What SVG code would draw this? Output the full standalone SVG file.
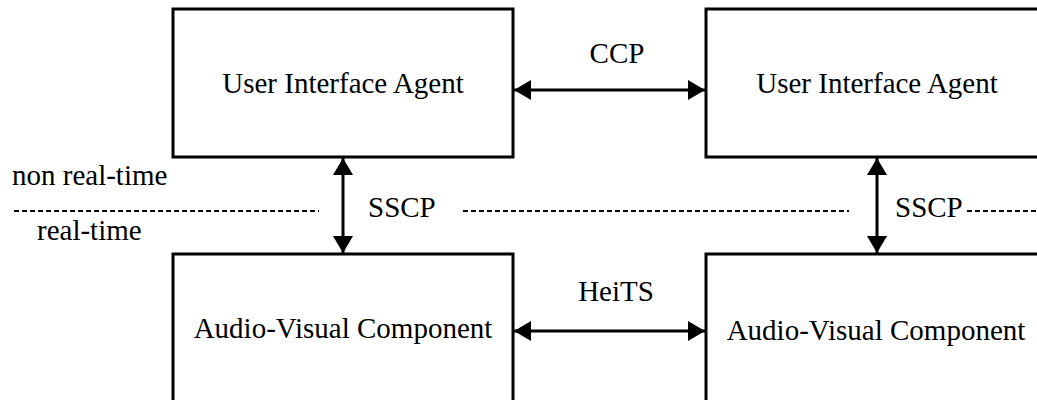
<svg xmlns="http://www.w3.org/2000/svg" width="1037" height="400" viewBox="0 0 1037 400">
<style>
.box{fill:#fff;stroke:#000;stroke-width:3}
.t{font-size:29px;fill:#000}
.c{stroke:#000;stroke-width:3;fill:none}
.d{stroke:#000;stroke-width:2;stroke-dasharray:5 3;fill:none}
</style>
<defs>
<marker id="ah" markerUnits="userSpaceOnUse" markerWidth="18" markerHeight="20" refX="17" refY="10" orient="auto-start-reverse">
<path d="M0,0 L17,10 L0,20 Z" fill="#000"/>
</marker>
</defs>
<rect width="1037" height="400" fill="#fff"/>
<g font-family="Liberation Serif, Times New Roman, serif">
<g id="ui-left"><rect class="box" x="173" y="9" width="340" height="148"/><text class="t" x="343" y="93" text-anchor="middle">User Interface Agent</text></g>
<g id="ui-right"><rect class="box" x="706" y="9" width="342" height="148"/><text class="t" x="877" y="93" text-anchor="middle">User Interface Agent</text></g>
<g id="av-left"><rect class="box" x="173" y="254" width="340" height="160"/><text class="t" x="343" y="338" text-anchor="middle">Audio-Visual Component</text></g>
<g id="av-right"><rect class="box" x="706" y="254" width="342" height="160"/><text class="t" x="876" y="340" text-anchor="middle">Audio-Visual Component</text></g>
<g id="connectors">
<line class="c" x1="514" y1="90" x2="705" y2="90" marker-start="url(#ah)" marker-end="url(#ah)"/>
<line class="c" x1="514" y1="331" x2="705" y2="331" marker-start="url(#ah)" marker-end="url(#ah)"/>
<line class="c" x1="343" y1="158" x2="343" y2="253" marker-start="url(#ah)" marker-end="url(#ah)"/>
<line class="c" x1="877" y1="158" x2="877" y2="253" marker-start="url(#ah)" marker-end="url(#ah)"/>
<line class="d" x1="14" y1="211" x2="319" y2="211"/>
<line class="d" x1="463" y1="211" x2="849" y2="211"/>
<line class="d" x1="967" y1="211" x2="1037" y2="211"/>
</g>
<g id="labels">
<text class="t" x="617" y="63" text-anchor="middle">CCP</text>
<text class="t" x="616" y="301" text-anchor="middle">HeiTS</text>
<text class="t" x="368" y="217">SSCP</text>
<text class="t" x="895" y="217">SSCP</text>
<text class="t" x="12" y="185">non real-time</text>
<text class="t" x="37" y="240">real-time</text>
</g>
</g>
</svg>
